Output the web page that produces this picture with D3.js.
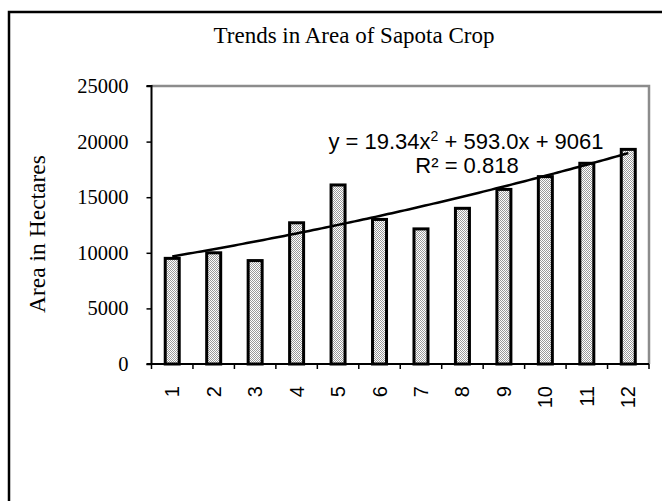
<!DOCTYPE html>
<html>
<head>
<meta charset="utf-8">
<script src="https://cdn.jsdelivr.net/npm/d3@7"></script>
<style>
  html, body { margin: 0; padding: 0; background: #fff; }
  svg { display: block; }
</style>
</head>
<body>
<svg id="chart" width="662" height="501"></svg>
<script>
const categories = [1, 2, 3, 4, 5, 6, 7, 8, 9, 10, 11, 12];
const areaValues = [9500, 10000, 9300, 12700, 16100, 13000, 12150, 14000, 15700, 16850, 18050, 19300];
const yTicks = [0, 5000, 10000, 15000, 20000, 25000];
const trendCoef = [19.34, 593.0, 9061]; // a, b, c as printed on the chart
const titleText = "Trends in Area of Sapota Crop";
const yLabelText = "Area in Hectares";
const rSquaredText = "R² = 0.818";

const svg = d3.select("#chart");
const plot = { left: 151.5, right: 649, top: 86, bottom: 364 };

// checker pattern fill
const defs = svg.append("defs");
const pat = defs.append("pattern").attr("id", "dots").attr("patternUnits", "userSpaceOnUse")
  .attr("width", 2).attr("height", 2);
pat.append("rect").attr("width", 2).attr("height", 2).attr("fill", "#ffffff");
pat.append("rect").attr("x", 0).attr("y", 0).attr("width", 1).attr("height", 1).attr("fill", "#9a9a9a");
pat.append("rect").attr("x", 1).attr("y", 1).attr("width", 1).attr("height", 1).attr("fill", "#9a9a9a");

// outer chart border (extends past the viewport on right and bottom)
svg.append("rect").attr("x", 9).attr("y", 12).attr("width", 700).attr("height", 600)
  .attr("fill", "none").attr("stroke", "#000").attr("stroke-width", 2.5);

const x = d3.scaleBand().domain(categories).range([plot.left, plot.right]).padding(0);
const y = d3.scaleLinear().domain([0, 25000]).range([plot.bottom, plot.top]);

// plot area top/right border (gray)
svg.append("path")
  .attr("d", `M${plot.left},${plot.top}H${plot.right}V${plot.bottom}`)
  .attr("fill", "none").attr("stroke", "#8c8c8c").attr("stroke-width", 2.5);

// bars
const barW = 14;
svg.append("g").selectAll("rect").data(categories).join("rect")
  .attr("x", (d) => x(d) + x.bandwidth() / 2 - barW / 2)
  .attr("y", (d, i) => y(areaValues[i]))
  .attr("width", barW)
  .attr("height", (d, i) => y(0) - y(areaValues[i]))
  .attr("fill", "url(#dots)")
  .attr("stroke", "#000").attr("stroke-width", 3);

// Y axis
const yAxis = d3.axisLeft(y).tickValues(yTicks).tickSize(5).tickPadding(18).tickFormat(d3.format("d"));
const gy = svg.append("g").attr("transform", `translate(${plot.left},0)`).call(yAxis);
gy.select(".domain").attr("stroke", "#000").attr("stroke-width", 2).attr("d", `M-5,${plot.top}H0V${plot.bottom}`);
gy.selectAll(".tick line").attr("stroke", "#000").attr("stroke-width", 1.5);
gy.selectAll(".tick text").attr("font-family", "'Liberation Serif', 'Times New Roman', serif")
  .attr("font-size", 20.5).attr("fill", "#000");

// X axis (ticks between categories)
const gx = svg.append("g");
gx.append("line").attr("x1", plot.left - 5).attr("x2", plot.right).attr("y1", plot.bottom).attr("y2", plot.bottom)
  .attr("stroke", "#000").attr("stroke-width", 2);
const boundaries = categories.map((d) => x(d)).concat([plot.right]);
gx.selectAll("line.tk").data(boundaries).join("line").attr("class", "tk")
  .attr("x1", (d) => d).attr("x2", (d) => d).attr("y1", plot.bottom).attr("y2", plot.bottom + 5)
  .attr("stroke", "#000").attr("stroke-width", 1.5);
gx.selectAll("text").data(categories).join("text")
  .attr("transform", (d) => `translate(${x(d) + x.bandwidth() / 2},386) rotate(-90)`)
  .attr("dy", "0.35em")
  .attr("text-anchor", "end")
  .attr("font-family", "'Liberation Sans', Arial, sans-serif")
  .attr("font-size", 20).attr("fill", "#000")
  .text((d) => d);

// trend line from printed equation
const dense = d3.range(1, 12.001, 0.1).map((c) => {
  const px = x(1) + x.bandwidth() / 2 + (c - 1) * x.step();
  return [px, y(trendCoef[0] * c * c + trendCoef[1] * c + trendCoef[2])];
});
svg.append("path").attr("d", d3.line()(dense))
  .attr("fill", "none").attr("stroke", "#000").attr("stroke-width", 2.5);

// equation text
const eq = svg.append("text").attr("x", 466).attr("y", 149).attr("text-anchor", "middle")
  .attr("font-family", "'Liberation Sans', Arial, sans-serif").attr("font-size", 22).attr("fill", "#000");
eq.append("tspan").text(`y = ${trendCoef[0].toFixed(2)}x`);
eq.append("tspan").attr("dy", -8).attr("font-size", 14).text("2");
eq.append("tspan").attr("dy", 8).text(` + ${trendCoef[1].toFixed(1)}x + ${trendCoef[2]}`);
svg.append("text").attr("x", 467).attr("y", 173).attr("text-anchor", "middle")
  .attr("font-family", "'Liberation Sans', Arial, sans-serif").attr("font-size", 22).attr("fill", "#000")
  .text(rSquaredText);

// title
svg.append("text").attr("x", 354).attr("y", 43).attr("text-anchor", "middle")
  .attr("font-family", "'Liberation Serif', 'Times New Roman', serif").attr("font-size", 23).attr("fill", "#000")
  .text(titleText);

// y label
svg.append("text").attr("transform", "translate(45,234) rotate(-90)").attr("text-anchor", "middle")
  .attr("font-family", "'Liberation Serif', 'Times New Roman', serif").attr("font-size", 23.5).attr("fill", "#000")
  .text(yLabelText);
</script>
</body>
</html>
